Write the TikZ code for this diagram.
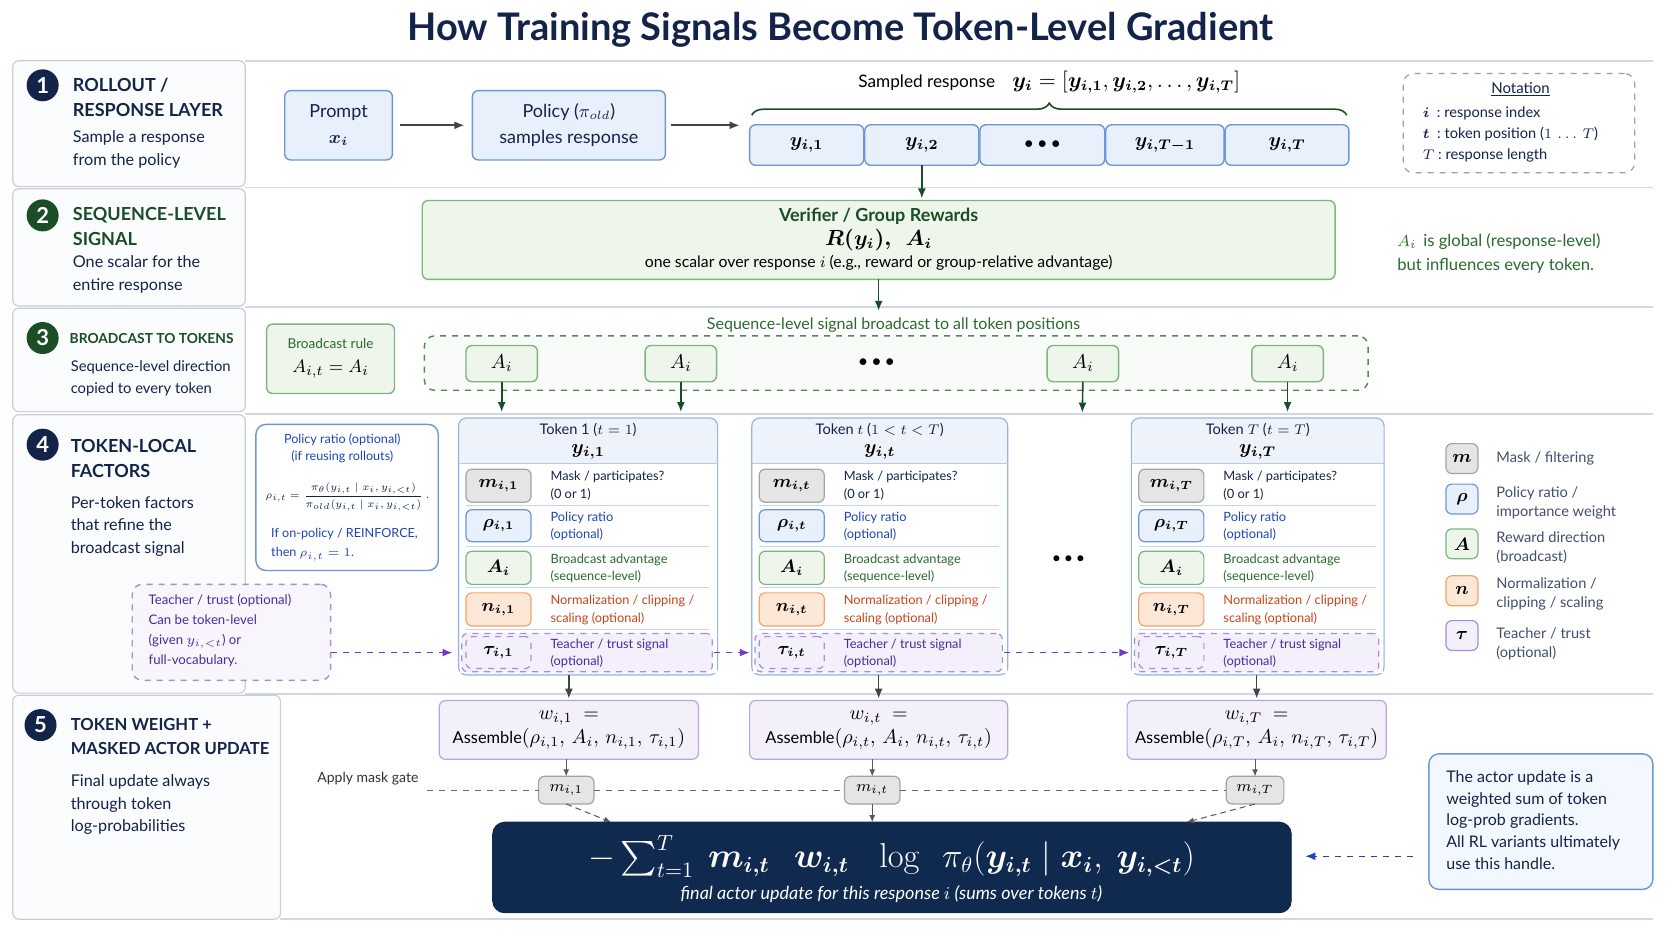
\documentclass[tikz,border=0pt]{standalone}
\usepackage{amsmath}
\usepackage{bm}
\usepackage[no-math]{fontspec}
\setmainfont{Lato}
\usetikzlibrary{fit,arrows.meta,decorations.pathreplacing,calc}
\definecolor{navy}{HTML}{14234A}
\definecolor{navyfill}{HTML}{10294F}
\definecolor{gdark}{HTML}{1B4D26}
\definecolor{gtext}{HTML}{2A6A2E}
\definecolor{gborder}{HTML}{7DB57D}
\definecolor{gfill}{HTML}{EEF6EC}
\definecolor{bborder}{HTML}{6C96D6}
\definecolor{bfill}{HTML}{E8F0FC}
\definecolor{btext}{HTML}{1E45B4}
\definecolor{grayb}{HTML}{A3A3A3}
\definecolor{grayf}{HTML}{E5E5E5}
\definecolor{oborder}{HTML}{F2A468}
\definecolor{ofill}{HTML}{FDE8D8}
\definecolor{otext}{HTML}{C8441C}
\definecolor{pborder}{HTML}{A88DD8}
\definecolor{pfill}{HTML}{F3EFFB}
\definecolor{ptext}{HTML}{4B2A9C}
\definecolor{parrowc}{HTML}{6A3EC4}
\definecolor{sepc}{HTML}{D3D7DF}
\definecolor{panelb}{HTML}{C8CDDA}
\definecolor{panelf}{HTML}{FBFCFE}
\definecolor{hdrf}{HTML}{EEF2FB}
\definecolor{arrowc}{HTML}{444444}
\tikzset{
  fx/.style={inner sep=0pt, outer sep=0pt},
  panel/.style={fx, draw=panelb, fill=panelf, rounded corners=3pt, line width=0.6pt},
  numc/.style={circle, fill=navy, text=white, minimum size=16pt, inner sep=0pt, font=\fontsize{11}{11}\selectfont\bfseries},
  stitle/.style={anchor=west, align=left, inner sep=0pt, text=navy, font=\fontsize{9}{12.3}\selectfont\bfseries},
  ssub/.style={anchor=west, align=left, inner sep=0pt, text=navy, font=\fontsize{8.1}{11.2}\selectfont},
  sepline/.style={draw=sepc, line width=0.8pt},
  bluebox/.style={fx, draw=bborder, fill=bfill, rounded corners=3pt, line width=0.7pt},
  greenbox/.style={fx, draw=gborder, fill=gfill, rounded corners=3pt, line width=0.7pt},
  wbox/.style={fx, draw=pborder!80, fill=pfill, rounded corners=3pt, line width=0.6pt},
  wtxt/.style={align=center, inner sep=0pt, font=\fontsize{8.2}{12.3}\selectfont, text=black},
  chip/.style={fx, rounded corners=3pt, line width=0.6pt},
  chiptxt/.style={inner sep=0pt, font=\fontsize{9}{10}\selectfont},
  rowtxt/.style={anchor=west, align=left, inner sep=0pt, text=navy, font=\fontsize{6.4}{8.6}\selectfont},
  legtxt/.style={anchor=west, align=left, inner sep=0pt, text=navy!80, font=\fontsize{7.3}{9.6}\selectfont},
  darrow/.style={-{Latex[length=5pt,width=4pt]}, draw=arrowc, line width=0.8pt},
  garrow/.style={-{Latex[length=5pt,width=4pt]}, draw=gdark, line width=0.8pt},
  parrow/.style={-{Latex[length=5pt,width=4pt]}, draw=parrowc, dashed, line width=0.8pt},
  thinarrow/.style={-{Latex[length=3.5pt,width=3pt]}, draw=gray!70!black, line width=0.5pt},
  barrow/.style={-{Latex[length=5pt,width=4pt]}, draw=btext, dashed, line width=0.7pt},
}
\newcommand\tokcol[5]{%
  \node[fx, draw=bborder!70, fill=hdrf, rounded corners=4pt, line width=0.6pt, fit={(#2,392)(#3,633)}] (#1) {};
  \fill[white] (#2+1,435) rectangle (#3-1,631);
  \draw[bborder!50, line width=0.6pt] (#2,435) -- (#3,435);
  \node[text=navy, font=\fontsize{7.3}{9}\selectfont] (#1h) at ({(#2+#3)/2},403) {#4};
  \node[font=\fontsize{10}{12}\selectfont] (#1y) at ({(#2+#3)/2},424) {$\bm{y_{i,#5}}$};
  \draw[bborder!40] (#2+7,474) -- (#3-8,474);
  \draw[bborder!40] (#2+7,512) -- (#3-8,512);
  \draw[bborder!40] (#2+7,551) -- (#3-8,551);
  \draw[bborder!40] (#2+7,590) -- (#3-8,590);
  \node[chip, fill=grayf, draw=grayb, fit={(#2+7,440)(#2+68,471)}] (#1m) {};
  \node[chip, fill=bfill, draw=bborder, fit={(#2+7,478)(#2+68,508)}] (#1r) {};
  \node[chip, fill=gfill, draw=gborder, fit={(#2+7,517)(#2+68,548)}] (#1a) {};
  \node[chip, fill=ofill, draw=oborder, fit={(#2+7,556)(#2+68,587)}] (#1n) {};
  \node[fx, draw=pborder, dashed, fill=pfill, rounded corners=3pt, line width=0.6pt, fit={(#2+3,594)(#3-5,630)}] (#1tau) {};
  \node[chip, fill=pfill, draw=pborder, dashed, fit={(#2+7,597)(#2+68,627)}] (#1t) {};
  \node[chiptxt] (#1mx) at (#1m) {$\bm{m_{i,#5}}$};
  \node[chiptxt] (#1rx) at (#1r) {$\bm{\rho_{i,#5}}$};
  \node[chiptxt] (#1ax) at (#1a) {$\bm{A_i}$};
  \node[chiptxt] (#1nx) at (#1n) {$\bm{n_{i,#5}}$};
  \node[chiptxt] (#1tx) at (#1t) {$\bm{\tau_{i,#5}}$};
  \node[rowtxt] (#1mt) at (#2+86,455.5) {Mask / participates?\\(0 or 1)};
  \node[rowtxt, text=btext] (#1rt) at (#2+86,494) {Policy ratio\\(optional)};
  \node[rowtxt, text=gtext] (#1at) at (#2+86,533) {Broadcast advantage\\(sequence-level)};
  \node[rowtxt, text=otext] (#1nt) at (#2+86,572) {Normalization / clipping /\\scaling (optional)};
  \node[rowtxt, text=ptext] (#1tt) at (#2+86,613) {Teacher / trust signal\\(optional)};
}
\begin{document}
\begin{tikzpicture}[x=0.53316pt, y=-0.53316pt]
\useasboundingbox (0,0) rectangle (1568,882);
\fill[white] (0,0) rectangle (1568,882);

% title
\node[font=\fontsize{19}{22}\selectfont\bfseries, text=navy] (title) at (788,28) {How Training Signals Become Token-Level Gradient};

% separators
\draw[sepline] (230,57) -- (1550,57);
\draw[sepline] (230,176) -- (1550,176);
\draw[sepline] (230,288) -- (1550,288);
\draw[sepline] (230,388) -- (1550,388);
\draw[sepline] (230,651) -- (1550,651);
\draw[sepline] (263,862) -- (1550,862);

% left panels
\node[panel, fit={(12,57)(230,175)}] (p1) {};
\node[panel, fit={(12,177)(230,287)}] (p2) {};
\node[panel, fit={(12,289)(230,386)}] (p3) {};
\node[panel, fit={(12,389)(230,650)}] (p4) {};
\node[panel, fit={(12,652)(263,862)}] (p5) {};
\node[numc] (c1) at (40,80) {1};
\node[numc, fill=gdark] (c2) at (40,202) {2};
\node[numc, fill=gdark] (c3) at (40,317) {3};
\node[numc] (c4) at (40,417) {4};
\node[numc] (c5) at (38,680) {5};
\node[stitle] (t1) at (68,91.5) {ROLLOUT /\\RESPONSE LAYER};
\node[ssub] (s1) at (68,140) {Sample a response\\from the policy};
\node[stitle, text=gdark] (t2) at (68,212.5) {SEQUENCE-LEVEL\\SIGNAL};
\node[ssub] (s2) at (68,257.5) {One scalar for the\\entire response};
\node[stitle, text=gdark, font=\fontsize{6.9}{10}\selectfont\bfseries] (t3) at (65,317) {BROADCAST TO TOKENS};
\node[ssub, font=\fontsize{7.4}{11}\selectfont] (s3) at (66,354.5) {Sequence-level direction\\copied to every token};
\node[stitle] (t4) at (66,430) {TOKEN-LOCAL\\FACTORS};
\node[ssub] (s4) at (66,493.5) {Per-token factors\\that refine the\\broadcast signal};
\node[stitle, font=\fontsize{8.3}{12.3}\selectfont\bfseries] (t5) at (66,690.5) {TOKEN WEIGHT +\\MASKED ACTOR UPDATE};
\node[ssub] (s5) at (66,754.5) {Final update always\\through token\\log-probabilities};

% row 1
\node[bluebox, fit={(267,85)(368,150)}] (prompt) {};
\node[align=center, inner sep=0pt, text=navy, font=\fontsize{9}{13}\selectfont] (promptt) at (prompt) {Prompt\\$\bm{x_i}$};
\node[bluebox, fit={(443,85)(624,150)}] (policy) {};
\node[align=center, inner sep=0pt, text=navy, font=\fontsize{9}{13}\selectfont] (policyt) at (policy) {Policy ($\pi_{old}$)\\samples response};
\node[bluebox, fit={(703,117)(810,155)}] (tk1) {};
\node[bluebox, fit={(811,117)(918,155)}] (tk2) {};
\node[bluebox, fit={(919,117)(1036,155)}] (tk3) {};
\node[bluebox, fit={(1037,117)(1148,155)}] (tk4) {};
\node[bluebox, fit={(1149,117)(1265,155)}] (tk5) {};
\node[font=\fontsize{10}{12}\selectfont] (tk1t) at (tk1) {$\bm{y_{i,1}}$};
\node[font=\fontsize{10}{12}\selectfont] (tk2t) at (tk2) {$\bm{y_{i,2}}$};
\node[font=\fontsize{9}{12}\selectfont] (tk3t) at (tk3) {\textbullet\,\textbullet\,\textbullet};
\node[font=\fontsize{10}{12}\selectfont] (tk4t) at (tk4) {$\bm{y_{i,T-1}}$};
\node[font=\fontsize{10}{12}\selectfont] (tk5t) at (tk5) {$\bm{y_{i,T}}$};
\draw[darrow, shorten <=4pt, shorten >=4pt] (prompt) -- (policy);
\draw[darrow, shorten <=3pt, shorten >=5pt] (policy.east) -- (policy.east -| tk1.west);
\draw[gdark, line width=0.8pt, decorate, decoration={brace, amplitude=6pt}] (705,108) -- (1263,108);
\node[font=\fontsize{8.6}{10}\selectfont] (samp) at (984,77) {Sampled response\quad {\fontsize{10.5}{12}\selectfont$\bm{y_i} = [\bm{y_{i,1}}, \bm{y_{i,2}}, \ldots, \bm{y_{i,T}}]$}};
\node[fx, draw=gray!75, dashed, rounded corners=5pt, line width=0.6pt, fit={(1316,69)(1533,162)}] (nota) {};
\node[font=\fontsize{7.5}{9}\selectfont, text=navy] (notat) at (1426,84) {\underline{Notation}};
\node[anchor=west, align=left, inner sep=0pt, font=\fontsize{7.3}{10.7}\selectfont, text=navy] (notal) at (1334,126) {$\bm{i}$\ \ :\ response index\\$\bm{t}$\ \ :\ token position ($1\,\ldots\,T$)\\$T$\ :\ response length};

% row 2
\node[greenbox, fit={(396,188)(1252,262)}] (verif) {};
\node[text=gdark, font=\fontsize{9}{11}\selectfont\bfseries] (vt1) at (824,203) {Verifier / Group Rewards};
\node[font=\fontsize{10.5}{12}\selectfont] (vt2) at (824,225) {$\bm{R(y_i),\ \ A_i}$};
\node[font=\fontsize{7.9}{10}\selectfont] (vt3) at (824,246) {one scalar over response $i$ (e.g., reward or group-relative advantage)};
\draw[garrow, shorten >=1pt] (tk2.south) -- (tk2.south |- verif.north);
\node[anchor=west, align=left, inner sep=0pt, text=gtext, font=\fontsize{8.3}{12}\selectfont] (glob) at (1310,237.5) {$A_i$\, is global (response-level)\\but influences every token.};

% row 3
\node[text=gtext, font=\fontsize{8}{10}\selectfont] (bct) at (838,305) {Sequence-level signal broadcast to all token positions};
\draw[garrow] (verif.south) -- (verif.south |- bct.north);
\node[greenbox, fit={(250,304)(370,369)}] (brule) {};
\node[text=gtext, font=\fontsize{6.8}{8}\selectfont] (brt) at (310,322) {Broadcast rule};
\node[font=\fontsize{9.5}{11}\selectfont] (brm) at (310,346) {$A_{i,t} = A_i$};
\node[fx, draw=gtext!80, dashed, line width=0.7pt, fill=gfill!40, rounded corners=5pt, fit={(398,315)(1283,366)}] (bcbox) {};
\node[greenbox, fit={(437,324)(504,358)}] (a1) {};
\node[greenbox, fit={(605,324)(672,358)}] (a2) {};
\node[greenbox, fit={(982,324)(1049,358)}] (a3) {};
\node[greenbox, fit={(1174,324)(1241,358)}] (a4) {};
\node[font=\fontsize{10}{12}\selectfont] (a1t) at (a1) {$A_i$};
\node[font=\fontsize{10}{12}\selectfont] (a2t) at (a2) {$A_i$};
\node[font=\fontsize{10}{12}\selectfont] (a3t) at (a3) {$A_i$};
\node[font=\fontsize{10}{12}\selectfont] (a4t) at (a4) {$A_i$};
\node[font=\fontsize{9}{9}\selectfont] (bdots) at (822,341) {\textbullet\,\textbullet\,\textbullet};

% row 4
\tokcol{c1}{430}{673}{Token 1 ($t = 1$)}{1}
\tokcol{c2}{705}{945}{Token $t$ ($1 < t < T$)}{t}
\tokcol{c3}{1061}{1298}{Token $T$ ($t = T$)}{T}
\node[font=\fontsize{8}{9}\selectfont] (cdots) at (1002,525) {\textbullet\,\textbullet\,\textbullet};
\coordinate (e3) at (1015,387);
\draw[garrow, shorten >=3pt] (a1.south) -- (a1.south |- c1.north);
\draw[garrow, shorten >=3pt] (a2.south) -- (a2.south |- c1.north);
\draw[garrow] (a3.south) -- (e3);
\draw[garrow, shorten >=3pt] (a4.south) -- (a4.south |- c3.north);

\node[fx, draw=bborder, fill=white, rounded corners=5pt, line width=0.7pt, fit={(240,398)(411,535)}] (prbox) {};
\node[text=btext, font=\fontsize{6.3}{8.6}\selectfont, align=center] (prt) at (321,420.5) {Policy ratio (optional)\\(if reusing rollouts)};
\node[font=\fontsize{6}{7}\selectfont, text=navy, inner sep=0pt] (prf) at (326,466) {\scalebox{0.86}{$\rho_{i,t} = \dfrac{\pi_\theta(y_{i,t}\mid x_i, y_{i,<t})}{\pi_{old}(y_{i,t}\mid x_i, y_{i,<t})}\,.$}};
\node[anchor=west, align=left, inner sep=0pt, text=btext, font=\fontsize{6.3}{9.6}\selectfont] (prn) at (254,511) {If on-policy / REINFORCE,\\then $\rho_{i,t} = 1$.};

\node[fx, draw=pborder, dashed, fill=pfill!60, rounded corners=5pt, line width=0.7pt, fit={(124,548)(310,638)}] (teach) {};
\node[anchor=west, align=left, inner sep=0pt, text=ptext, font=\fontsize{6.6}{10}\selectfont] (teacht) at (139,591) {Teacher / trust (optional)\\Can be token-level\\(given $y_{i,<t}$) or\\full-vocabulary.};
\draw[parrow, shorten >=3pt] (teach.east |- c1tau.west) -- (c1.west |- c1tau.west);
\draw[parrow, shorten <=1pt, shorten >=1pt] (c1tau.east) -- (c2.west |- c2tau.west);
\draw[parrow, shorten <=1pt, shorten >=1pt] (c2tau.east) -- (c3.west |- c3tau.west);

% legend
\node[chip, fill=grayf, draw=grayb, fit={(1356,416)(1386,444)}] (lm) {};
\node[chip, fill=bfill, draw=bborder, fit={(1356,454)(1386,482)}] (lr) {};
\node[chip, fill=gfill, draw=gborder, fit={(1356,496)(1386,524)}] (la) {};
\node[chip, fill=ofill, draw=oborder, fit={(1356,540)(1386,568)}] (ln) {};
\node[chip, fill=pfill, draw=pborder, fit={(1356,582)(1386,610)}] (lt) {};
\node[chiptxt] (lmx) at (lm) {$\bm{m}$};
\node[chiptxt] (lrx) at (lr) {$\bm{\rho}$};
\node[chiptxt] (lax) at (la) {$\bm{A}$};
\node[chiptxt] (lnx) at (ln) {$\bm{n}$};
\node[chiptxt] (ltx) at (lt) {$\bm{\tau}$};
\node[legtxt] (lmt) at (1403,430) {Mask / filtering};
\node[legtxt] (lrt) at (1403,472) {Policy ratio /\\importance weight};
\node[legtxt] (lat) at (1403,513.5) {Reward direction\\(broadcast)};
\node[legtxt] (lnt) at (1403,557) {Normalization /\\clipping / scaling};
\node[legtxt] (ltt) at (1403,603.5) {Teacher / trust\\(optional)};

% row 5
\node[wbox, fit={(412,657)(655,712)}] (w1) {};
\node[wbox, fit={(703,657)(945,712)}] (w2) {};
\node[wbox, fit={(1057,657)(1300,712)}] (w3) {};
\node[wtxt] (w1t) at (w1) {{\fontsize{10}{12}\selectfont$w_{i,1}\ =$}\\Assemble{\fontsize{10}{12}\selectfont$(\rho_{i,1},\,A_i,\,n_{i,1},\,\tau_{i,1})$}};
\node[wtxt] (w2t) at (w2) {{\fontsize{10}{12}\selectfont$w_{i,t}\ =$}\\Assemble{\fontsize{10}{12}\selectfont$(\rho_{i,t},\,A_i,\,n_{i,t},\,\tau_{i,t})$}};
\node[wtxt] (w3t) at (w3) {{\fontsize{10}{12}\selectfont$w_{i,T}\ =$}\\Assemble{\fontsize{10}{12}\selectfont$(\rho_{i,T},\,A_i,\,n_{i,T},\,\tau_{i,T})$}};
\draw[darrow, shorten >=1pt] (w1.north |- c1.south) -- (w1.north);
\draw[darrow, shorten >=1pt] (w2.north |- c2.south) -- (w2.north);
\draw[darrow, shorten >=1pt] (w3.north |- c3.south) -- (w3.north);

\node[chip, fill=grayf, draw=grayb, fit={(505,728)(557,754)}] (g1) {};
\node[chip, fill=grayf, draw=grayb, fit={(792,728)(844,754)}] (g2) {};
\node[chip, fill=grayf, draw=grayb, fit={(1150,728)(1204,754)}] (g3) {};
\node[chiptxt, font=\fontsize{8}{9}\selectfont] (g1t) at (g1) {$m_{i,1}$};
\node[chiptxt, font=\fontsize{8}{9}\selectfont] (g2t) at (g2) {$m_{i,t}$};
\node[chiptxt, font=\fontsize{8}{9}\selectfont] (g3t) at (g3) {$m_{i,T}$};
\draw[thinarrow] (g1.north |- w1.south) -- (g1.north);
\draw[thinarrow] (g2.north |- w2.south) -- (g2.north);
\draw[thinarrow] (g3.north |- w3.south) -- (g3.north);
\node[font=\fontsize{7}{8}\selectfont, text=black!80] (amg) at (345,730) {Apply mask gate};
\coordinate (mg0) at (400,741);
\draw[dashed, draw=gray!80!black, line width=0.5pt] (mg0) -- (g1.west);
\draw[dashed, draw=gray!80!black, line width=0.5pt] (g1.east) -- (g2.west);
\draw[dashed, draw=gray!80!black, line width=0.5pt] (g2.east) -- (g3.west);

\node[fx, fill=navyfill, draw=navyfill, rounded corners=6pt, fit={(462,771)(1211,856)}] (fin) {};
\node[text=white, font=\fontsize{16}{18}\selectfont] (ff) at (836,803) {$-\textstyle\sum_{t=1}^{T}\ \bm{m_{i,t}}\ \ \ \bm{w_{i,t}}\ \ \ \log\ \ \pi_\theta(\bm{y_{i,t}} \mid \bm{x_i},\ \bm{y_{i,<t}})$};
\node[text=white, font=\fontsize{9}{11}\selectfont\itshape] (fs) at (836,838) {final actor update for this response $i$ (sums over tokens $t$)};
\coordinate (f1) at (573,771);
\coordinate (f3) at (1113,771);
\draw[thinarrow, densely dashed] (g1.south) -- (f1);
\draw[thinarrow] (g2.south) -- (g2.south |- fin.north);
\draw[thinarrow, densely dashed] (g3.south) -- (f3);

\node[fx, draw=bborder, fill=bfill!50, rounded corners=5pt, line width=0.7pt, fit={(1340,707)(1550,834)}] (note) {};
\node[anchor=west, align=left, inner sep=0pt, text=navy, font=\fontsize{8}{10.9}\selectfont] (notet) at (1356,769) {The actor update is a\\weighted sum of token\\log-prob gradients.\\All RL variants ultimately\\use this handle.};
\coordinate (na) at (1325,803);
\draw[barrow, shorten >=7pt] (na) -- (na -| fin.east);
\end{tikzpicture}
\end{document}
